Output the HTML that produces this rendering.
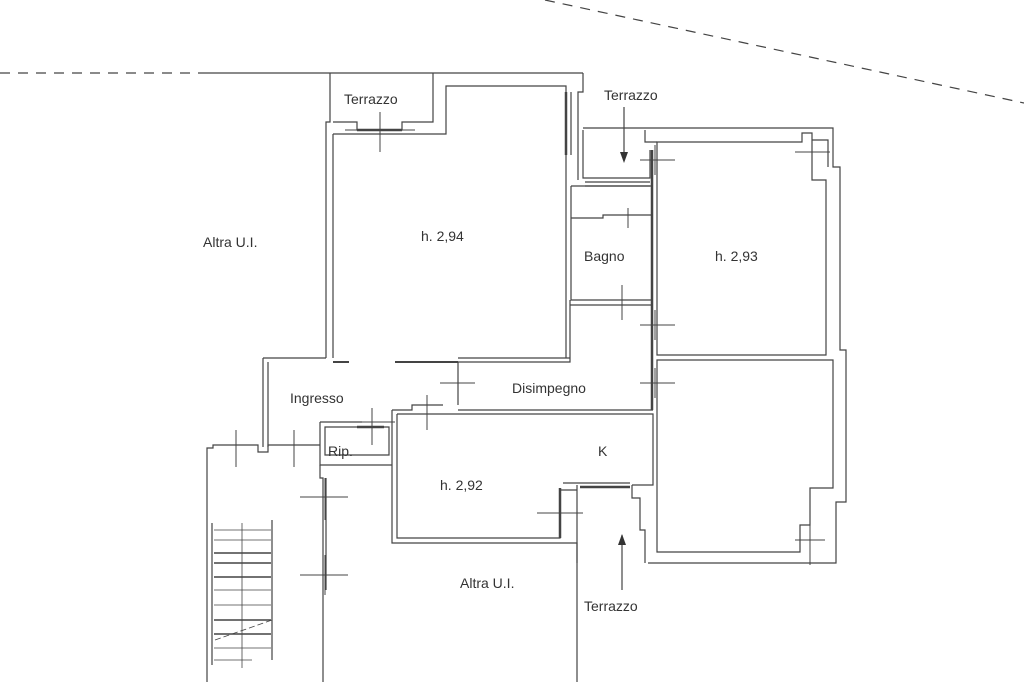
<!DOCTYPE html>
<html><head><meta charset="utf-8"><style>
html,body{margin:0;padding:0;background:#fff;}
svg{display:block}
text{font-family:"Liberation Sans",sans-serif;font-size:14px;fill:#333}
</style></head><body>
<svg width="1024" height="682" viewBox="0 0 1024 682" xmlns="http://www.w3.org/2000/svg">
<g fill="none" stroke="#444" stroke-width="1.2">
<!-- dashed lines -->
<line x1="0" y1="73" x2="200" y2="73" stroke-dasharray="10,8"/>
<line x1="545" y1="0" x2="1024" y2="103" stroke-dasharray="10,8"/>
<line x1="200" y1="73" x2="583" y2="73"/>
<!-- top terrace box -->
<path d="M330 73 V122 H326 V358 M333 134 V358"/>
<path d="M333 122 H357 V130 H402 V122 H433 V73"/>
<path d="M583 73 V92 H578 V180 M571 92 V155"/>
<!-- main room 2.94 -->
<path d="M333 134 H446 V86 H566 V358 H458 M566 358 H570"/>
<path d="M333 362 H349 M395 362 H458" stroke-width="2"/>
<path d="M357 130 H402" stroke-width="2.5"/>
<path d="M566 92 V155" stroke-width="2.5"/>
<!-- terrazzo 2 and right block -->
<path d="M583 128 H833 V142 M583 130 V178 H650 V150"/>
<path d="M645 130 V142 H657 M585 182 H650 M585 186 H650" />
<path d="M652 150 V410" stroke-width="2.5"/>
<!-- bagno -->
<path d="M571 186 H652 M571 186 V300 H652 M571 218 H603 V215 H652"/>
<!-- disimpegno -->
<path d="M570 300 V362 H458 V405 M458 410 H653 M570 305 H652"/>
<!-- right rooms -->
<path d="M657 142 H802 V133 H812 V180 H826 V355 H657 Z"/>
<path d="M657 360 H833 V488 H810 V525 H800 V552 H657 Z"/>
<path d="M833 142 V167 H840 V350 H846 V502 H836 V563 H648"/>
<path d="M812 140 H828 V167" />
<!-- K room -->
<path d="M397 414 H653 V485 H632 M397 414 V538 H560 V490 H577 M563 483 H630"/>
<path d="M392 410 H412 V405 H443 M392 410 V543 H577 V682"/>
<path d="M577 485 V563"/>
<path d="M632 485 V498 H640 V530 H645 V563"/>
<path d="M560 488 V538" stroke-width="2.5"/>
<path d="M580 487 H630" stroke-width="2.5"/>
<!-- ingresso -->
<path d="M263 358 H326 M263 358 V447 M268 362 V447 M268 442 V447"/>
<!-- rip -->
<path d="M320 422 H362 M325 427 H389 V455 H325 Z M320 422 V465 H392"/>
<path d="M357 427 H384" stroke-width="2.5"/>
<!-- stair area -->
<path d="M207 682 V448 H213 V445 H258 V452 H268 V445 H320"/>
<path d="M320 465 V478 H323 V682"/>
<path d="M326 478 V590"/>
<path d="M212 523 V665 M272 520 V660"/>
<g stroke-width="1.5">
<line x1="214" y1="553" x2="271" y2="553"/><line x1="214" y1="563" x2="271" y2="563"/>
<line x1="214" y1="577" x2="271" y2="577"/><line x1="214" y1="620" x2="271" y2="620"/>
<line x1="214" y1="634" x2="271" y2="634"/>
</g>
<g stroke-width="0.8">
<line x1="214" y1="530" x2="271" y2="530"/><line x1="214" y1="540" x2="271" y2="540"/>
<line x1="214" y1="590" x2="271" y2="590"/><line x1="214" y1="605" x2="271" y2="605"/>
<line x1="214" y1="648" x2="271" y2="648"/><line x1="214" y1="660" x2="252" y2="660"/>
<line x1="242" y1="523" x2="242" y2="668"/>
<line x1="215" y1="640" x2="272" y2="620" stroke-dasharray="6,3"/>
</g>
<!-- door crosses -->
<g stroke-width="1">
<path d="M380 112 V152 M345 130 H415"/>
<path d="M640 160 H675 M655 145 V175"/>
<path d="M628 208 V228"/>
<path d="M622 285 V320 M605 300 H640"/>
<path d="M640 325 H675 M655 310 V340"/>
<path d="M640 383 H675 M655 368 V398"/>
<path d="M440 383 H475 M458 365 V405"/>
<path d="M360 422 H395 M372 408 V445"/>
<path d="M427 395 V430"/>
<path d="M537 513 H583 M560 490 V538"/>
<path d="M300 497 H348 M325 478 V520"/>
<path d="M300 575 H348 M325 555 V595"/>
<path d="M236 430 V467 M294 430 V467"/>
<path d="M795 152 H830 M812 140 V165"/>
<path d="M795 540 H825 M810 525 V565"/>
</g>
<!-- arrows -->
<path d="M624 107 V160 M577 540 V540"/>
<path d="M622 535 V590"/>
</g>
<path d="M620 152 L624 163 L628 152 Z" fill="#333"/>
<path d="M618 545 L622 534 L626 545 Z" fill="#333"/>
<text x="344" y="104">Terrazzo</text>
<text x="604" y="100">Terrazzo</text>
<text x="203" y="247">Altra U.I.</text>
<text x="421" y="241">h. 2,94</text>
<text x="584" y="261">Bagno</text>
<text x="715" y="261">h. 2,93</text>
<text x="512" y="393">Disimpegno</text>
<text x="290" y="403">Ingresso</text>
<text x="328" y="456">Rip.</text>
<text x="598" y="456">K</text>
<text x="440" y="490">h. 2,92</text>
<text x="460" y="588">Altra U.I.</text>
<text x="584" y="611">Terrazzo</text>
</svg>
</body></html>
